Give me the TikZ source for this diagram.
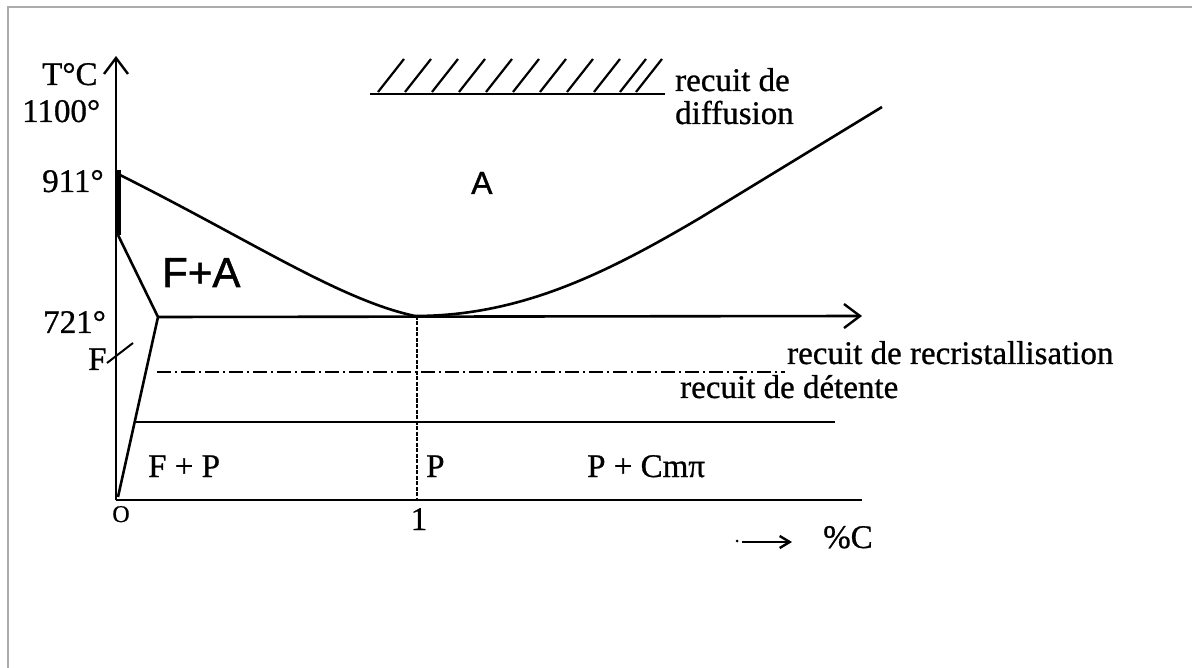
\documentclass[tikz,border=0pt]{standalone}
\usepackage{fontspec}
\setmainfont{Liberation Serif}[FakeBold=0.8]
\newfontfamily\handsans{Liberation Sans}[FakeBold=1.2]
\usetikzlibrary{arrows.meta}
\begin{document}
\begin{tikzpicture}[x=1pt,y=-1pt,
  lbl/.style={font=\fontsize{33}{35}\selectfont, inner sep=0pt},
  handlbl/.style={font=\handsans\fontsize{42}{44}\selectfont, inner sep=0pt},
  curve/.style={line width=2.6pt, line join=round},
  axisarrow/.style={line width=2.6pt, -{Straight Barb[length=16pt,width=24pt,line width=2.4pt]}},
  frameline/.style={draw=gray!65, line width=2.2pt},
  dashdot/.style={line width=2.4pt, dash pattern=on 14pt off 4pt on 2pt off 4pt},
  thindash/.style={line width=1.4pt, dash pattern=on 4pt off 1.5pt}]
\useasboundingbox (0,0) rectangle (1192,668);
% frame
\coordinate (FL) at (8,668);
\coordinate (FC) at (8,7);
\coordinate (FR) at (1192,7);
\draw[frameline] (FL) -- (FC) -- (FR);
% key points
\coordinate (O) at (116,500);
\coordinate (Ytop) at (116,56);
\coordinate (Gt) at (118,170);
\coordinate (Gb) at (118,235);
\coordinate (Gc) at (120,175);
\coordinate (E) at (158,317);
\coordinate (S) at (415,316);
\coordinate (Sq) at (700,218);
\coordinate (Cm) at (882,107);
\coordinate (Xend) at (862,316);
\coordinate (Bend) at (862,500);
\coordinate (Oq) at (118,497);
% axes
\draw[axisarrow] (O) -- (Ytop);
\draw[line width=2.6pt] (O) -- (Bend);
\draw[line width=6pt] (Gt) -- (Gb);
% phase boundaries
\draw[curve] (Gc) .. controls (250,240) and (340,300) .. (S);
\draw[curve] (S) .. controls (520,316) and (605,274) .. (Sq) -- (Cm);
\draw[curve] (Gb) -- (E) -- (Oq);
\draw[axisarrow] (E) -- (Xend);
% vertical at 1%
\coordinate (V1) at (417,316);
\coordinate (V2) at (417,500);
\draw[thindash] (V1) -- (V2);
% recristallisation line
\coordinate (R1) at (157,372);
\coordinate (R2) at (785,372);
\draw[dashdot] (R1) -- (R2);
% detente line
\coordinate (D1) at (135,422);
\coordinate (D2) at (835,422);
\draw[line width=2.6pt] (D1) -- (D2);
% F marker
\coordinate (M1) at (107,363);
\coordinate (M2) at (133,343);
\draw[line width=2pt] (M1) -- (M2);
% diffusion hatch
\coordinate (H1) at (370,94);
\coordinate (H2) at (665,94);
\draw[line width=2.4pt] (H1) -- (H2);
\foreach \xx in {378,405,432,459,486,513,540,567,594,620,636}
  \draw[line width=2.2pt] (\xx,92) -- ++(26,-33);
% %C arrow
\coordinate (P1) at (742,542);
\coordinate (P2) at (792,542);
\draw[line width=2.4pt, -{Straight Barb[length=10pt,width=12pt,line width=2.4pt]}] (P1) -- (P2);
\coordinate (P0) at (737,541);
\fill (P0) circle (1.5pt);
% labels
\node[lbl, anchor=base west] (tc) at (42,85) {T°C};
\node[lbl, anchor=base west] (t1100) at (22,122) {1100°};
\node[lbl, anchor=base west] (t911) at (42,192) {911°};
\node[lbl, anchor=base west] (t721) at (43,333) {721°};
\node[lbl, anchor=base west] (tF) at (88,370) {F};
\node[handlbl, anchor=base west] (tFA) at (162,287) {F+A};
\node[handlbl, font=\handsans\fontsize{32}{34}\selectfont, anchor=base west] (tA) at (471,194) {A};
\node[lbl, anchor=base west] (tFP) at (148,477) {F + P};
\node[lbl, anchor=base west] (tP) at (426,477) {P};
\node[lbl, anchor=base west] (tPC) at (587,477) {P + Cmπ};
\node[lbl, anchor=base west] (rd1) at (675,91) {recuit de};
\node[lbl, anchor=base west] (rd2) at (675,124) {diffusion};
\node[lbl, anchor=base west] (rr) at (787,364) {recuit de recristallisation};
\node[lbl, anchor=base west] (rdt) at (680,398) {recuit de détente};
\node[lbl, anchor=base west] (pc) at (823,548) {\%C};
\node[lbl, anchor=base] (one) at (419,530) {1};
\node[lbl, font=\fontsize{24}{26}\selectfont, anchor=base] (o) at (121,522) {O};
\end{tikzpicture}
\end{document}
